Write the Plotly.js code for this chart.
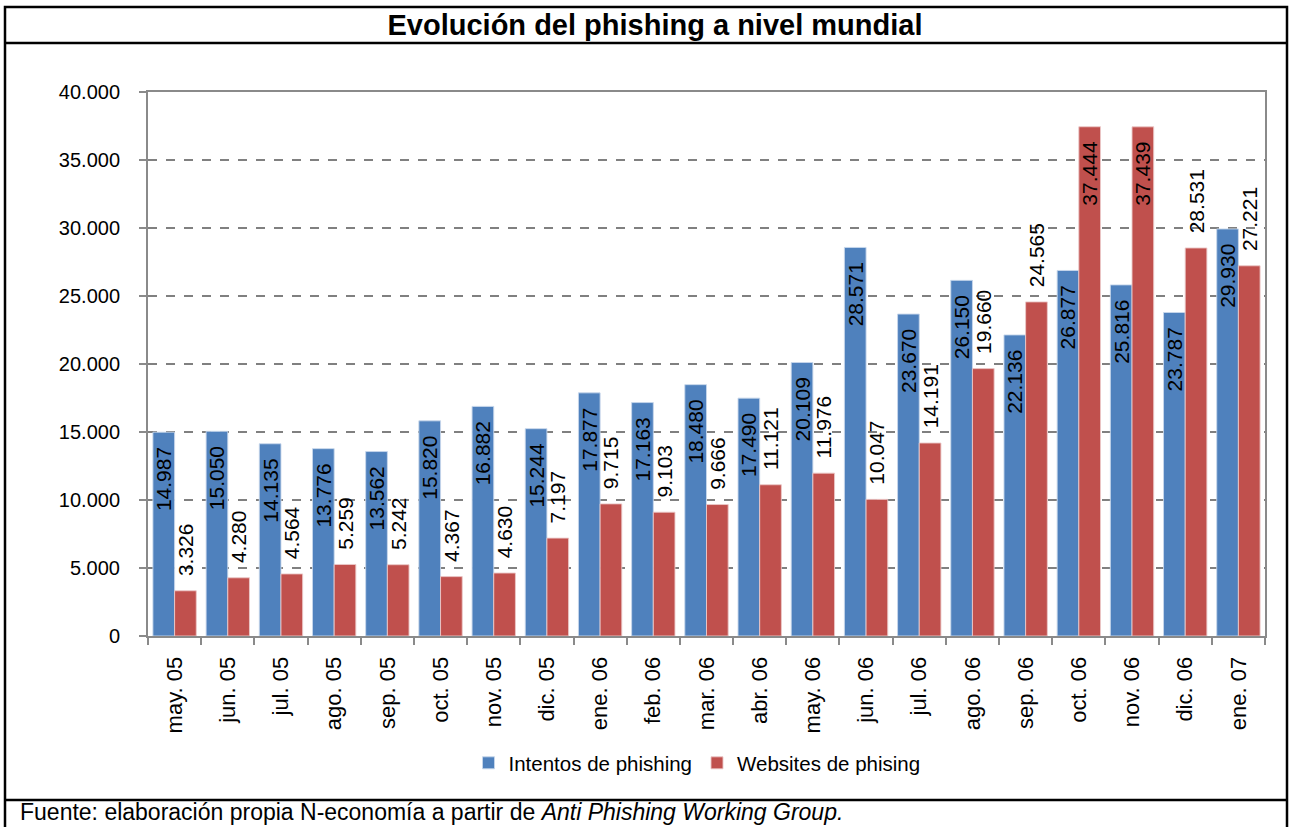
<!DOCTYPE html>
<html>
<head>
<meta charset="utf-8">
<script src="https://cdn.plot.ly/plotly-3.0.1.min.js"></script>
<style>
  html, body { margin: 0; padding: 0; background: #ffffff; }
  #chart { width: 1290px; height: 827px; }
</style>
</head>
<body>
<div id="chart"></div>
<script>
const months = ["may. 05", "jun. 05", "jul. 05", "ago. 05", "sep. 05", "oct. 05", "nov. 05", "dic. 05",
  "ene. 06", "feb. 06", "mar. 06", "abr. 06", "may. 06", "jun. 06", "jul. 06", "ago. 06",
  "sep. 06", "oct. 06", "nov. 06", "dic. 06", "ene. 07"];
const intentos = [14987, 15050, 14135, 13776, 13562, 15820, 16882, 15244, 17877, 17163, 18480,
  17490, 20109, 28571, 23670, 26150, 22136, 26877, 25816, 23787, 29930];
const websites = [3326, 4280, 4564, 5259, 5242, 4367, 4630, 7197, 9715, 9103, 9666,
  11121, 11976, 10047, 14191, 19660, 24565, 37444, 37439, 28531, 27221];
const seriesNames = ["Intentos de phishing", "Websites de phising"];
const titleText = "Evolución del phishing a nivel mundial";
const sourceText = "Fuente: elaboración propia N-economía a partir de <i>Anti Phishing Working Group.</i>";

// plot area in pixels
const W = 1290, H = 827;
const L = 148, R = 1265, T = 92, B = 636;
const px = x => (x - L) / (R - L);
const py = y => (B - y) / (B - T);

const FONT = "Liberation Sans, Arial, sans-serif";
const fmt = v => v.toLocaleString("de-DE");
const NB = "\u00a0";

const redPos = websites.map(v => v > 33000 ? "inside" : "outside");

const traces = [
  {
    type: "bar", name: seriesNames[0], x: months, y: intentos,
    marker: { color: "#4F81BD", line: { color: "rgba(200,215,235,0.9)", width: 1 } },
    text: intentos.map(v => fmt(v) + NB + NB),
    textposition: "inside", insidetextanchor: "end", textangle: -90,
    constraintext: "none",
    textfont: { family: FONT, size: 21, color: "#000000" },
    cliponaxis: false, hoverinfo: "x+y"
  },
  {
    type: "bar", name: seriesNames[1], x: months, y: websites,
    marker: { color: "#C0504D", line: { color: "rgba(235,200,200,0.9)", width: 1 } },
    text: websites.map((v, i) => redPos[i] === "inside" ? fmt(v) + NB + NB : NB + NB + fmt(v)),
    textposition: redPos, insidetextanchor: "end", textangle: -90,
    constraintext: "none",
    textfont: { family: FONT, size: 21, color: "#000000" },
    cliponaxis: false, hoverinfo: "x+y"
  }
];

const layout = {
  width: W, height: H,
  margin: { l: L, r: W - R, t: T, b: H - B, pad: 0 },
  paper_bgcolor: "#ffffff", plot_bgcolor: "#ffffff",
  separators: ",.",
  font: { family: FONT, size: 20, color: "#000000" },
  title: {
    text: "<b>" + titleText + "</b>",
    font: { family: FONT, size: 29, color: "#000000" },
    xref: "container", yref: "container",
    x: 655 / W, y: 1 - 25 / H, xanchor: "center", yanchor: "middle"
  },
  barmode: "group", bargap: 0.185, bargroupgap: 0,
  xaxis: {
    type: "category",
    showline: true, linecolor: "#8a8a8a", linewidth: 2, mirror: true,
    ticks: "outside", ticklen: 7, tickwidth: 2, tickcolor: "#8a8a8a",
    tickson: "boundaries",
    tickangle: -90, ticklabelstandoff: 10,
    tickfont: { family: FONT, size: 22, color: "#000000" },
    showgrid: false, zeroline: false, automargin: false
  },
  yaxis: {
    range: [0, 40000], dtick: 5000, tickformat: ",d",
    showline: true, linecolor: "#8a8a8a", linewidth: 2, mirror: true,
    ticks: "outside", ticklen: 7, tickwidth: 2, tickcolor: "#8a8a8a",
    ticklabelstandoff: 15,
    tickfont: { family: FONT, size: 20, color: "#000000" },
    showgrid: true, gridcolor: "#808080", gridwidth: 1.5, griddash: "dash",
    zeroline: false, automargin: false
  },
  showlegend: true,
  legend: {
    orientation: "h", x: px(697), y: py(763), xanchor: "center", yanchor: "middle",
    font: { family: FONT, size: 20.5, color: "#000000" },
    itemwidth: 30, tracegroupgap: 0, bgcolor: "rgba(0,0,0,0)"
  },
  shapes: [
    { type: "rect", xref: "paper", yref: "paper", x0: px(5), x1: px(1287), y0: py(7), y1: py(860),
      line: { color: "#000000", width: 2.5 }, fillcolor: "rgba(0,0,0,0)", layer: "above" },
    { type: "line", xref: "paper", yref: "paper", x0: px(5), x1: px(1287), y0: py(43), y1: py(43),
      line: { color: "#000000", width: 2.5 } },
    { type: "line", xref: "paper", yref: "paper", x0: px(5), x1: px(1287), y0: py(800), y1: py(800),
      line: { color: "#000000", width: 2.5 } }
  ],
  annotations: [
    { text: sourceText, xref: "paper", yref: "paper", x: px(18), y: py(812),
      xanchor: "left", yanchor: "middle", showarrow: false,
      font: { family: FONT, size: 23, color: "#000000" } }
  ]
};

Plotly.newPlot("chart", traces, layout, { displayModeBar: false, staticPlot: true });
</script>
</body>
</html>
